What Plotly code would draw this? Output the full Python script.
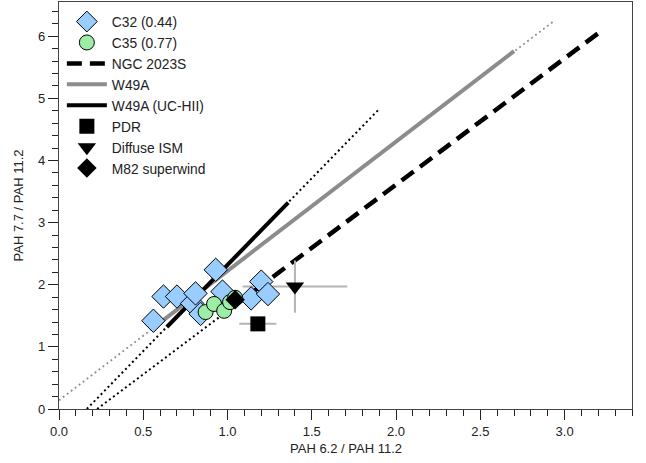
import plotly.graph_objects as go

# ---- data ----
c32_x = [0.56, 0.62, 0.70, 0.79, 0.81, 0.84, 0.93, 0.97, 1.14, 1.20, 1.24]
c32_y = [1.42, 1.81, 1.81, 1.70, 1.86, 1.53, 2.24, 1.89, 1.78, 2.05, 1.85]

c35_x = [0.87, 0.92, 0.98, 1.015, 1.045]
c35_y = [1.56, 1.69, 1.58, 1.72, 1.79]

ngc_x = [1.05, 3.23]
ngc_y = [1.68, 6.11]
ngc_ext_x = [0.226, 1.05]
ngc_ext_y = [0.0, 1.68]

w49_x = [0.60, 2.70]
w49_y = [1.39, 5.76]
w49_ext_x = [0.0, 2.93]
w49_ext_y = [0.14, 6.23]

uchii_x = [0.64, 1.36]
uchii_y = [1.32, 3.32]
uchii_ext_x = [0.165, 1.894]
uchii_ext_y = [0.0, 4.81]

pdr_x = [1.18]
pdr_y = [1.37]
pdr_xerr = [0.11]

dism_x = [1.40]
dism_y = [1.97]
dism_xerr = [0.31]
dism_yerr = [0.42]

m82_x = [1.045]
m82_y = [1.76]

x_title = "PAH 6.2 / PAH 11.2"
y_title = "PAH 7.7 / PAH 11.2"

FONT = "Liberation Sans, Arial, sans-serif"
TXT = "#222222"
EB = "#b4b4b4"

fig = go.Figure()

# dotted extensions (no legend)
fig.add_trace(go.Scatter(x=w49_ext_x, y=w49_ext_y, mode="lines", showlegend=False,
                         line=dict(color="#8c8c8c", width=1.8, dash="1.8px,3.2px")))
fig.add_trace(go.Scatter(x=uchii_ext_x, y=uchii_ext_y, mode="lines", showlegend=False,
                         line=dict(color="black", width=2, dash="2px,3px")))
fig.add_trace(go.Scatter(x=ngc_ext_x, y=ngc_ext_y, mode="lines", showlegend=False,
                         line=dict(color="black", width=2, dash="2px,3px")))

# fitted lines
fig.add_trace(go.Scatter(x=ngc_x, y=ngc_y, mode="lines", name="NGC 2023S", legendrank=3,
                         line=dict(color="black", width=4.5, dash="15px,8px")))
fig.add_trace(go.Scatter(x=w49_x, y=w49_y, mode="lines", name="W49A", legendrank=4,
                         line=dict(color="#8c8c8c", width=4)))
fig.add_trace(go.Scatter(x=uchii_x, y=uchii_y, mode="lines", name="W49A (UC-HII)", legendrank=5,
                         line=dict(color="black", width=4)))

# markers
fig.add_trace(go.Scatter(x=pdr_x, y=pdr_y, mode="markers", name="PDR", legendrank=6,
                         error_x=dict(type="data", array=pdr_xerr, color=EB, thickness=2, width=0),
                         marker=dict(symbol="square", size=15, color="black")))
fig.add_trace(go.Scatter(x=dism_x, y=dism_y, mode="markers", name="Diffuse ISM", legendrank=7,
                         error_x=dict(type="data", array=dism_xerr, color=EB, thickness=2, width=0),
                         error_y=dict(type="data", array=dism_yerr, color=EB, thickness=2, width=0),
                         marker=dict(symbol="triangle-down", size=16, color="black")))
fig.add_trace(go.Scatter(x=c32_x, y=c32_y, mode="markers", name="C32 (0.44)", legendrank=1,
                         marker=dict(symbol="diamond", size=18, color="#99ccff",
                                     line=dict(color="black", width=1))))
fig.add_trace(go.Scatter(x=c35_x, y=c35_y, mode="markers", name="C35 (0.77)", legendrank=2,
                         marker=dict(symbol="circle", size=15, color="#9ceea6",
                                     line=dict(color="black", width=1))))
fig.add_trace(go.Scatter(x=m82_x, y=m82_y, mode="markers", name="M82 superwind", legendrank=8,
                         marker=dict(symbol="diamond", size=15, color="black")))

axis_common = dict(
    showgrid=False, zeroline=False, showline=True, linecolor="#444444", linewidth=1.3,
    mirror=True, ticks="outside", tickcolor=TXT, ticklen=10, tickwidth=1.2,
    tickfont=dict(family=FONT, size=13, color=TXT), automargin=False,
)

fig.update_layout(
    width=646, height=463,
    margin=dict(l=59, r=14, t=2, b=54),
    plot_bgcolor="white", paper_bgcolor="white",
    font=dict(family=FONT, size=13, color=TXT),
    showlegend=True,
    legend=dict(x=0.005, y=0.99, xanchor="left", yanchor="top", bgcolor="rgba(0,0,0,0)",
                font=dict(family=FONT, size=13.8, color=TXT), itemsizing="trace",
                itemwidth=40, tracegroupgap=0),
    xaxis=dict(range=[0, 3.40], dtick=0.5, tickformat=".1f",
               minor=dict(dtick=0.1, ticks="outside", ticklen=6, tickcolor=TXT, tickwidth=1.2),
               **axis_common),
    yaxis=dict(range=[0, 6.55], dtick=1,
               minor=dict(dtick=0.2, ticks="outside", ticklen=6, tickcolor=TXT, tickwidth=1.2),
               **axis_common),
    annotations=[
        dict(text=x_title, xref="paper", yref="paper", x=0.5, y=0, yshift=-39,
             xanchor="center", yanchor="middle", showarrow=False,
             font=dict(family=FONT, size=13, color=TXT)),
        dict(text=y_title, xref="paper", yref="paper", x=0, y=0.5, xshift=-41,
             xanchor="center", yanchor="middle", textangle=-90, showarrow=False,
             font=dict(family=FONT, size=13, color=TXT)),
    ],
)

fig.write_html("out.html", config={"displayModeBar": False},
               post_script="document.body.style.margin='0';document.body.style.overflow='hidden';")
